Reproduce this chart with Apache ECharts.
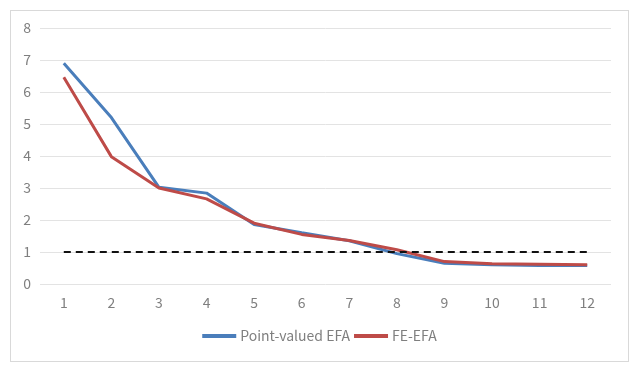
<!DOCTYPE html>
<html>
<head>
<meta charset="utf-8">
<script src="https://cdn.jsdelivr.net/npm/echarts@6/dist/echarts.min.js"></script>
<style>
    html, body { margin: 0; padding: 0; background: #fff; }
    #chart_box {
        position: absolute; left: 10px; top: 10px;
        width: 619px; height: 352px;
        border: 1px solid #d9d9d9; box-sizing: border-box;
    }
    #chart_line { width: 100%; height: 100%; }
</style>
</head>
<body>
<div id="chart_box"><div id="chart_line"></div></div>
<script>
// 因子数
var categories = ['1', '2', '3', '4', '5', '6', '7', '8', '9', '10', '11', '12'];
// 特征值
var pointValued = [6.9, 5.2, 3.02, 2.84, 1.86, 1.6, 1.35, 0.95, 0.65, 0.6, 0.58, 0.58];
var feEfa = [6.46, 3.98, 3.0, 2.66, 1.9, 1.55, 1.36, 1.07, 0.7, 0.63, 0.62, 0.6];
// 参考线
var refLine = [1, 1, 1, 1, 1, 1, 1, 1, 1, 1, 1, 1];
var yTicks = [0, 8, 1];

var chart = echarts.init(document.getElementById('chart_line'));

var textColor = '#7f7f7f';
var font = '"Noto Sans CJK SC", "Noto Sans", sans-serif';

var option = {
    animation: false,
    grid: {
        left: 29,
        right: 17,
        top: 17,
        bottom: 77
    },
    legend: {
        bottom: 13,
        left: 'center',
        itemWidth: 34,
        itemHeight: 4,
        itemGap: 4,
        icon: 'rect',
        textStyle: { color: textColor, fontSize: 14, fontFamily: font, padding: [0, 0, 0, -1] },
        data: ['Point-valued EFA', 'FE-EFA']
    },
    xAxis: {
        type: 'category',
        data: categories,
        boundaryGap: true,
        axisLine: { show: false },
        axisTick: { show: false },
        axisLabel: { color: textColor, fontSize: 14, fontFamily: font, margin: 12 }
    },
    yAxis: {
        type: 'value',
        min: yTicks[0],
        max: yTicks[1],
        interval: yTicks[2],
        axisLine: { show: false },
        axisTick: { show: false },
        axisLabel: { color: textColor, fontSize: 14, fontFamily: font, margin: 9 },
        splitLine: { lineStyle: { color: '#e3e3e3', width: 1 } }
    },
    series: [
        {
            name: 'Point-valued EFA',
            type: 'line',
            data: pointValued,
            symbol: 'none',
            lineStyle: { color: '#4A7EBB', width: 3 },
            itemStyle: { color: '#4A7EBB' }
        },
        {
            name: 'FE-EFA',
            type: 'line',
            data: feEfa,
            symbol: 'none',
            lineStyle: { color: '#BE4B48', width: 3 },
            itemStyle: { color: '#BE4B48' }
        },
        {
            name: 'ref',
            type: 'line',
            data: refLine,
            symbol: 'none',
            silent: true,
            lineStyle: { color: '#111', width: 2, type: [7, 5] }
        }
    ]
};

chart.setOption(option);
</script>
</body>
</html>
